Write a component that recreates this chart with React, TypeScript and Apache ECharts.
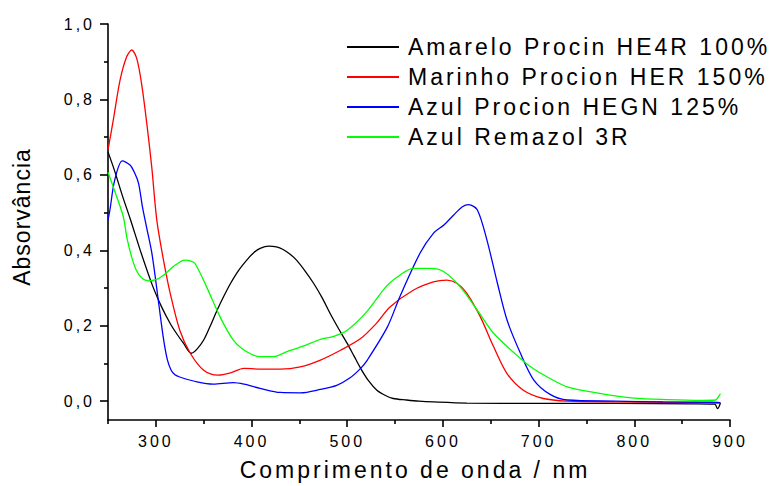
import React, { useEffect, useRef } from "react";
import * as echarts from "echarts";

const FONT = "'Liberation Sans', Arial, sans-serif";

const seriesNames = [
  "Amarelo Procin HE4R 100%",
  "Marinho Procion HER 150%",
  "Azul Procion HEGN 125%",
  "Azul Remazol 3R",
];
const seriesColors = ["#000000", "#ff0000", "#0000ff", "#00ff00"];

// Amarelo Procin HE4R 100%
const amareloNm = [250, 257, 265, 273, 285, 297, 306, 315, 322, 329, 337, 343, 350, 357, 364, 371, 378, 386, 395, 402, 409, 418, 426, 433, 440, 447, 456, 465, 474, 482, 491, 500, 507, 514, 522, 531, 540, 548, 562, 575, 590, 625, 700, 780, 860, 884, 887, 890];
const amareloAbs = [0.661, 0.61, 0.545, 0.485, 0.39, 0.303, 0.25, 0.206, 0.178, 0.153, 0.127, 0.138, 0.162, 0.2, 0.241, 0.278, 0.312, 0.345, 0.374, 0.393, 0.405, 0.411, 0.409, 0.402, 0.39, 0.374, 0.345, 0.312, 0.273, 0.233, 0.192, 0.153, 0.12, 0.087, 0.055, 0.029, 0.015, 0.007, 0.003, 0.0, -0.002, -0.005, -0.006, -0.006, -0.007, -0.008, -0.02, -0.005];

// Marinho Procion HER 150%
const marinhoNm = [250, 255.5, 262.6, 269.5, 274.8, 280, 285, 290.5, 295.7, 301, 308, 315, 325, 336, 350, 365, 378, 392, 409, 430, 451, 472, 493, 514, 530, 545, 569, 590, 604, 615, 625, 639, 653, 667, 684, 705, 730, 780, 830, 870, 890];
const marinhoAbs = [0.666, 0.745, 0.851, 0.913, 0.931, 0.909, 0.843, 0.737, 0.621, 0.48, 0.374, 0.286, 0.188, 0.127, 0.082, 0.069, 0.075, 0.087, 0.085, 0.085, 0.091, 0.109, 0.135, 0.166, 0.205, 0.25, 0.294, 0.316, 0.321, 0.312, 0.286, 0.224, 0.144, 0.073, 0.029, 0.007, 0.0, -0.002, -0.003, -0.004, -0.005];

// Azul Procion HEGN 125%
const hegnNm = [250, 252, 257, 265, 273, 278, 282, 286, 290, 296, 303, 308, 312, 316, 320, 325, 343, 360, 381, 392, 409, 430, 451, 472, 489, 503, 514, 521, 542, 555, 576, 590, 601, 611, 620, 627, 636, 646, 657, 667, 681, 695, 712, 730, 780, 830, 880, 890];
const hegnAbs = [0.48, 0.507, 0.586, 0.637, 0.626, 0.604, 0.577, 0.515, 0.465, 0.39, 0.259, 0.165, 0.11, 0.082, 0.07, 0.064, 0.051, 0.045, 0.049, 0.045, 0.034, 0.023, 0.022, 0.031, 0.042, 0.062, 0.087, 0.109, 0.197, 0.277, 0.392, 0.445, 0.467, 0.493, 0.515, 0.521, 0.507, 0.427, 0.312, 0.215, 0.127, 0.056, 0.018, 0.003, 0.0, -0.002, -0.003, -0.004];

// Azul Remazol 3R
const remazolNm = [250, 258, 266, 270, 275, 280, 286, 292, 300, 308, 318, 330, 336, 341, 353, 367, 381, 395, 409, 423, 437, 454, 472, 486, 500, 520, 541, 555, 569, 587, 601, 618, 636, 653, 681, 695, 712, 730, 765, 800, 834, 870, 885, 888, 890];
const remazolAbs = [0.607, 0.55, 0.489, 0.43, 0.38, 0.345, 0.325, 0.319, 0.322, 0.334, 0.356, 0.374, 0.372, 0.365, 0.303, 0.224, 0.162, 0.131, 0.118, 0.118, 0.131, 0.146, 0.164, 0.172, 0.188, 0.236, 0.305, 0.334, 0.352, 0.352, 0.343, 0.303, 0.241, 0.18, 0.113, 0.085, 0.06, 0.038, 0.02, 0.008, 0.004, 0.002, 0.003, 0.012, 0.02];

const xLabelTicks = [300, 400, 500, 600, 700, 800, 900];
const xMinorTicks = [250, 350, 450, 550, 650, 750, 850];
const yLabelTicks = [0, 0.2, 0.4, 0.6, 0.8, 1.0];
const yMinorTicks = [0.1, 0.3, 0.5, 0.7, 0.9];

const xTitle = "Comprimento de onda / nm";
const yTitle = "Absorvância";

const toPairs = (xs: number[], ys: number[]) => xs.map((x, i) => [x, ys[i]]);

const seriesData = [
  toPairs(amareloNm, amareloAbs),
  toPairs(marinhoNm, marinhoAbs),
  toPairs(hegnNm, hegnAbs),
  toPairs(remazolNm, remazolAbs),
];

const axisColor = "#000000";

export default function App() {
  const ref = useRef<HTMLDivElement | null>(null);

  useEffect(() => {
    if (!ref.current) return;
    const chart = echarts.init(ref.current, undefined, { renderer: "svg" });

    const xCommon = {
      type: "value" as const,
      min: 250,
      max: 900,
      position: "bottom" as const,
      splitLine: { show: false },
    };
    const yCommon = {
      type: "value" as const,
      min: -0.05,
      max: 1.0,
      position: "left" as const,
      splitLine: { show: false },
    };

    chart.setOption({
      animation: false,
      backgroundColor: "#ffffff",
      grid: { left: 108, right: 46, top: 24, bottom: 66, containLabel: false },
      xAxis: [
        {
          ...xCommon,
          axisLine: { show: true, onZero: false, lineStyle: { color: axisColor, width: 1.6 } },
          axisTick: { show: true, customValues: xLabelTicks, length: 7, lineStyle: { color: axisColor, width: 1.6 } },
          axisLabel: {
            show: true,
            customValues: xLabelTicks,
            margin: 13,
            fontSize: 16,
            color: "#000",
            fontFamily: FONT,
          },
        },
        {
          ...xCommon,
          axisLine: { show: false, onZero: false },
          axisTick: { show: true, customValues: xMinorTicks, length: 4, lineStyle: { color: axisColor, width: 1.6 } },
          axisLabel: { show: false },
        },
      ],
      yAxis: [
        {
          ...yCommon,
          axisLine: { show: true, onZero: false, lineStyle: { color: axisColor, width: 1.6 } },
          axisTick: { show: true, customValues: yLabelTicks, length: 8, lineStyle: { color: axisColor, width: 1.6 } },
          axisLabel: {
            show: true,
            customValues: yLabelTicks,
            margin: 13,
            fontSize: 16,
            color: "#000",
            fontFamily: FONT,
            formatter: (v: number) => v.toFixed(1).replace(".", ","),
          },
        },
        {
          ...yCommon,
          axisLine: { show: false, onZero: false },
          axisTick: { show: true, customValues: yMinorTicks, length: 4, lineStyle: { color: axisColor, width: 1.6 } },
          axisLabel: { show: false },
        },
      ],
      legend: {
        show: true,
        orient: "vertical",
        left: 347,
        top: 35,
        padding: 0,
        icon: "rect",
        itemWidth: 52,
        itemHeight: 2,
        itemGap: 6,
        data: seriesNames,
        textStyle: {
          fontSize: 23,
          lineHeight: 24,
          color: "#000",
          fontFamily: FONT,
          padding: [0, 0, 0, 4],
        },
      },
      graphic: [
        {
          type: "text",
          x: 415,
          y: 470,
          style: {
            text: xTitle,
            fontSize: 23,
            fontFamily: FONT,
            fill: "#000",
            textAlign: "center",
            textVerticalAlign: "middle",
          },
        },
        {
          type: "text",
          x: 22,
          y: 217,
          rotation: Math.PI / 2,
          style: {
            text: yTitle,
            fontSize: 23,
            fontFamily: FONT,
            fill: "#000",
            textAlign: "center",
            textVerticalAlign: "middle",
          },
        },
      ],
      series: seriesNames.map((name, i) => ({
        name,
        type: "line",
        xAxisIndex: 0,
        yAxisIndex: 0,
        data: seriesData[i],
        showSymbol: false,
        symbol: "none",
        smooth: 0.3,
        color: seriesColors[i],
        lineStyle: { color: seriesColors[i], width: 1.3 },
      })),
    });

    // Character spacing: the container sets 3px for all texts, the vertical title is tighter.
    const tighten = () => {
      const texts = ref.current?.querySelectorAll("text") ?? [];
      texts.forEach((t) => {
        if ((t.textContent || "").trim() === yTitle) t.setAttribute("letter-spacing", "1px");
      });
    };
    tighten();
    chart.on("finished", tighten);

    return () => {
      chart.dispose();
    };
  }, []);

  return (
    <div
      ref={ref}
      style={{
        position: "fixed",
        left: 0,
        top: 0,
        width: 776,
        height: 486,
        letterSpacing: "3px",
        background: "#fff",
      }}
    />
  );
}
